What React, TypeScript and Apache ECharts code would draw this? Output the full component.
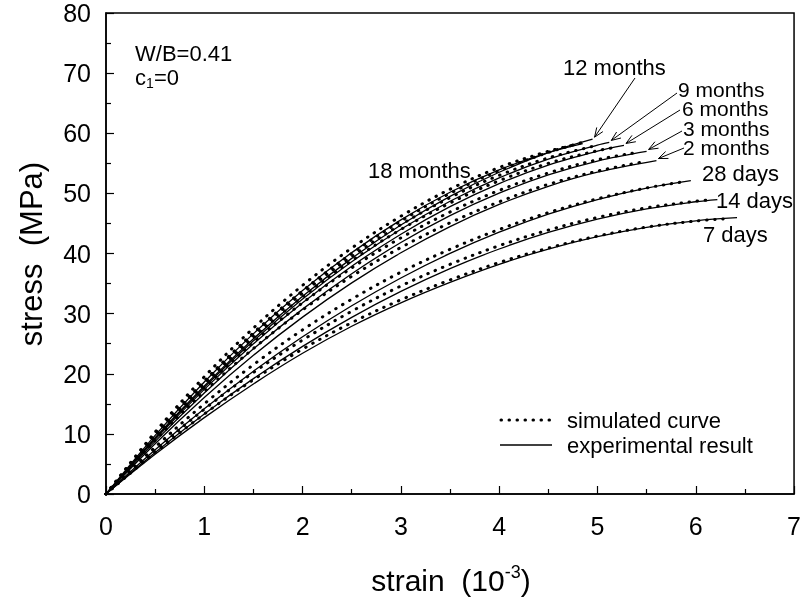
import React, { useEffect, useRef } from 'react';
import * as echarts from 'echarts';

// curve order: 7 days, 14 days, 28 days, 2 months, 3 months, 6 months, 9 months, 12 months, 18 months
const curveNames = ['7 days', '14 days', '28 days', '2 months', '3 months', '6 months', '9 months', '12 months', '18 months'];

// experimental results [strain (10^-3), stress (MPa)]
const exp7d = [[0, 0], [0.5, 6.6], [1, 12.7], [1.5, 18.3], [2, 23.4], [2.5, 27.9], [3, 31.8], [3.5, 35.2], [4, 38.2], [4.5, 40.74], [5, 42.8], [5.5, 44.36], [6, 45.43], [6.42, 45.95]];
const exp14d = [[0, 0], [0.5, 6.92], [1, 13.32], [1.5, 19.19], [2, 24.55], [2.5, 29.38], [3, 33.69], [3.5, 37.48], [4, 40.75], [4.5, 43.5], [5, 45.72], [5.5, 47.43], [6, 48.61], [6.22, 48.97]];
const exp28d = [[0, 0], [0.5, 7.35], [1, 14.16], [1.5, 20.42], [2, 26.14], [2.5, 31.31], [3, 35.93], [3.5, 40.01], [4, 43.54], [4.5, 46.53], [5, 48.97], [5.5, 50.87], [5.95, 52.12]];
const exp2m = [[0, 0], [0.5, 8.36], [1, 16.05], [1.5, 23.07], [2, 29.42], [2.5, 35.11], [3, 40.12], [3.5, 44.48], [4, 48.16], [4.5, 51.18], [5, 53.52], [5.6, 55.46]];
const exp3m = [[0, 0], [0.5, 8.76], [1, 16.81], [1.5, 24.14], [2, 30.75], [2.5, 36.64], [3, 41.82], [3.5, 46.29], [4, 50.03], [4.5, 53.06], [5, 55.37], [5.5, 56.97]];
const exp6m = [[0, 0], [0.5, 9.08], [1, 17.4], [1.5, 24.98], [2, 31.8], [2.5, 37.88], [3, 43.21], [3.5, 47.79], [4, 51.62], [4.5, 54.7], [5, 57.02], [5.27, 57.97]];
const exp9m = [[0, 0], [0.5, 9.26], [1, 17.75], [1.5, 25.48], [2, 32.43], [2.5, 38.62], [3, 44.04], [3.5, 48.69], [4, 52.57], [4.5, 55.68], [5, 58.02], [5.12, 58.47]];
const exp12m = [[0, 0], [0.5, 9.37], [1, 17.98], [1.5, 25.82], [2, 32.89], [2.5, 39.19], [3, 44.73], [3.5, 49.51], [4, 53.51], [4.5, 56.76], [4.95, 59.01]];
const exp18m = [[0, 0], [0.5, 9.75], [1, 18.64], [1.5, 26.67], [2, 33.84], [2.5, 40.15], [3, 45.6], [3.5, 50.19], [4, 53.92], [4.5, 56.79], [4.85, 58.29]];

// simulated curves
const sim7d = [[0, 0], [0.5, 6.9], [1, 13.3], [1.5, 19.0], [2, 24.1], [2.5, 28.5], [3, 32.3], [3.5, 35.6], [4, 38.5], [4.5, 40.9], [5, 42.9], [5.5, 44.4], [6, 45.4], [6.32, 45.8]];
const sim14d = [[0, 0], [0.5, 7.3], [1, 14.1], [1.5, 20.2], [2, 25.6], [2.5, 30.4], [3, 34.6], [3.5, 38.2], [4, 41.3], [4.5, 43.9], [5, 46.0], [5.5, 47.6], [6, 48.7], [6.15, 48.9]];
const sim28d = [[0, 0], [0.5, 7.8], [1, 15.0], [1.5, 21.5], [2, 27.3], [2.5, 32.4], [3, 36.9], [3.5, 40.7], [4, 44.0], [4.5, 46.8], [5, 49.1], [5.5, 50.9], [5.9, 52.0]];
const sim2m = [[0, 0], [0.5, 8.9], [1, 17.0], [1.5, 24.2], [2, 30.6], [2.5, 36.2], [3, 41.0], [3.5, 45.1], [4, 48.6], [4.5, 51.5], [5, 53.7], [5.45, 55.2]];
const sim3m = [[0, 0], [0.5, 9.3], [1, 17.7], [1.5, 25.2], [2, 31.8], [2.5, 37.6], [3, 42.6], [3.5, 46.9], [4, 50.5], [4.5, 53.4], [5, 55.6], [5.4, 56.8]];
const sim6m = [[0, 0], [0.5, 9.6], [1, 18.3], [1.5, 26.0], [2, 32.8], [2.5, 38.8], [3, 44.0], [3.5, 48.4], [4, 52.1], [4.5, 55.0], [5, 57.1], [5.2, 57.7]];
const sim9m = [[0, 0], [0.5, 9.8], [1, 18.6], [1.5, 26.5], [2, 33.4], [2.5, 39.5], [3, 44.8], [3.5, 49.3], [4, 53.0], [4.5, 55.9], [5, 58.0]];
const sim12m = [[0, 0], [0.5, 9.9], [1, 18.8], [1.5, 26.8], [2, 33.8], [2.5, 40.0], [3, 45.4], [3.5, 50.0], [4, 53.8], [4.5, 56.8], [4.85, 58.5]];
const sim18m = [[0, 0], [0.5, 10.3], [1, 19.5], [1.5, 27.6], [2, 34.7], [2.5, 40.9], [3, 46.2], [3.5, 50.7], [4, 54.3], [4.5, 57.0], [4.8, 58.2]];

const experimental = [exp7d, exp14d, exp28d, exp2m, exp3m, exp6m, exp9m, exp12m, exp18m];
const simulated = [sim7d, sim14d, sim28d, sim2m, sim3m, sim6m, sim9m, sim12m, sim18m];

const FONT = "'Liberation Sans', Arial, Helvetica, sans-serif";

export default function App() {
  const ref = useRef<HTMLDivElement>(null);

  useEffect(() => {
    if (!ref.current) return;
    const chart = echarts.init(ref.current, null, { renderer: 'svg' });

    const series: any[] = [];
    simulated.forEach((d, i) => {
      series.push({
        type: 'line',
        id: 'sim-' + curveNames[i],
        name: 'simulated curve',
        data: d,
        smooth: 0.35,
        symbol: 'none',
        lineStyle: { color: '#000', width: 3, type: [0.5, 7.5], cap: 'round' },
        z: 2,
      });
    });
    experimental.forEach((d, i) => {
      series.push({
        type: 'line',
        id: 'exp-' + curveNames[i],
        name: 'experimental result',
        data: d,
        smooth: 0.35,
        symbol: 'none',
        lineStyle: { color: '#000', width: 1.3 },
        z: 3,
      });
    });

    const axisCommon = {
      type: 'value',
      axisLine: { show: true, lineStyle: { color: '#000', width: 1.5 } },
      axisTick: { show: true, inside: true, length: 8, lineStyle: { color: '#000', width: 1.2 } },
      minorTick: { show: true, splitNumber: 2, length: 5, lineStyle: { color: '#000', width: 1.2 } },
      splitLine: { show: false },
      minorSplitLine: { show: false },
    };

    chart.setOption({
      animation: false,
      grid: { left: 106, right: 7, top: 13, bottom: 107, show: true, borderColor: '#000', borderWidth: 1.5, backgroundColor: 'transparent' },
      xAxis: {
        ...axisCommon,
        min: 0, max: 7, interval: 1,
        axisLabel: { color: '#000', fontSize: 25, lineHeight: 24, fontFamily: FONT, margin: 20 },
      },
      yAxis: {
        ...axisCommon,
        min: 0, max: 80, interval: 10,
        axisLabel: { color: '#000', fontSize: 25, lineHeight: 24, fontFamily: FONT, margin: 15 },
      },
      series,
    });

    const px = (p: number[]) => chart.convertToPixel({ gridIndex: 0 }, p) as number[];

    const txt = (text: string, x: number, y: number, size = 22, align = 'left') => ({
      type: 'text', x, y, silent: true,
      style: { text, fontSize: size, lineHeight: Math.round(size * 0.85), fontFamily: FONT, fill: '#000', align, verticalAlign: 'middle' },
    });

    const graphics: any[] = [];
    // curve labels
    graphics.push(txt('12 months', 563, 67));
    graphics.push(txt('9 months', 678, 89, 21));
    graphics.push(txt('6 months', 682, 108.5, 21));
    graphics.push(txt('3 months', 683, 128, 21));
    graphics.push(txt('2 months', 683, 147.5, 21));
    graphics.push(txt('28 days', 702, 173));
    graphics.push(txt('14 days', 716, 200));
    graphics.push(txt('7 days', 703, 234));
    graphics.push(txt('18 months', 368, 170));
    graphics.push(txt('W/B=0.41', 135, 53));
    graphics.push(txt('c', 135, 77));
    graphics.push(txt('1', 146, 83, 14));
    graphics.push(txt('=0', 154, 77));

    // arrows: from label to end of experimental curve
    const arrowDefs = [
      { from: [635, 78], idx: 7 },
      { from: [677, 93], idx: 6 },
      { from: [680, 110], idx: 5 },
      { from: [682, 131], idx: 4 },
      { from: [684, 148], idx: 3 },
    ];
    arrowDefs.forEach(({ from, idx }) => {
      const d = experimental[idx];
      const end = px(d[d.length - 1]);
      const tip = [end[0] + 2, end[1] - 2];
      const dx = tip[0] - from[0];
      const dy = tip[1] - from[1];
      const len = Math.sqrt(dx * dx + dy * dy);
      const ux = dx / len, uy = dy / len;
      const hl = 10, ang = 0.38;
      const h1 = [tip[0] - hl * (ux * Math.cos(ang) - uy * Math.sin(ang)), tip[1] - hl * (uy * Math.cos(ang) + ux * Math.sin(ang))];
      const h2 = [tip[0] - hl * (ux * Math.cos(-ang) - uy * Math.sin(-ang)), tip[1] - hl * (uy * Math.cos(-ang) + ux * Math.sin(-ang))];
      graphics.push({ type: 'line', silent: true, shape: { x1: from[0], y1: from[1], x2: tip[0], y2: tip[1] }, style: { stroke: '#000', lineWidth: 1 } });
      graphics.push({ type: 'polyline', silent: true, shape: { points: [h1, tip, h2] }, style: { stroke: '#000', lineWidth: 1, fill: null } });
    });

    // legend
    graphics.push({ type: 'line', silent: true, shape: { x1: 501, y1: 420, x2: 552, y2: 420 }, style: { stroke: '#000', lineWidth: 3, lineDash: [0.5, 7.5], lineCap: 'round' } });
    graphics.push({ type: 'line', silent: true, shape: { x1: 500, y1: 445, x2: 552, y2: 445 }, style: { stroke: '#000', lineWidth: 1.3 } });
    graphics.push(txt('simulated curve', 567, 420));
    graphics.push(txt('experimental result', 567, 445));

    // axis titles
    graphics.push({
      type: 'text', x: 451, y: 580, silent: true,
      style: {
        text: '{a|strain  (10}{s|-3}{a|)}',
        align: 'center', verticalAlign: 'middle', fill: '#000',
        rich: {
          a: { fontSize: 30, fontFamily: FONT, fill: '#000', lineHeight: 34 },
          s: { fontSize: 18, fontFamily: FONT, fill: '#000', lineHeight: 18, verticalAlign: 'top' },
        },
      },
    });
    graphics.push({
      type: 'text', x: 31, y: 254, rotation: Math.PI / 2, silent: true,
      style: { text: 'stress  (MPa)', fontSize: 31, fontFamily: FONT, fill: '#000', align: 'center', verticalAlign: 'middle' },
    });

    chart.setOption({ graphic: graphics });

    return () => chart.dispose();
  }, []);

  return <div ref={ref} style={{ position: 'fixed', left: 0, top: 0, width: 804, height: 601 }} />;
}
